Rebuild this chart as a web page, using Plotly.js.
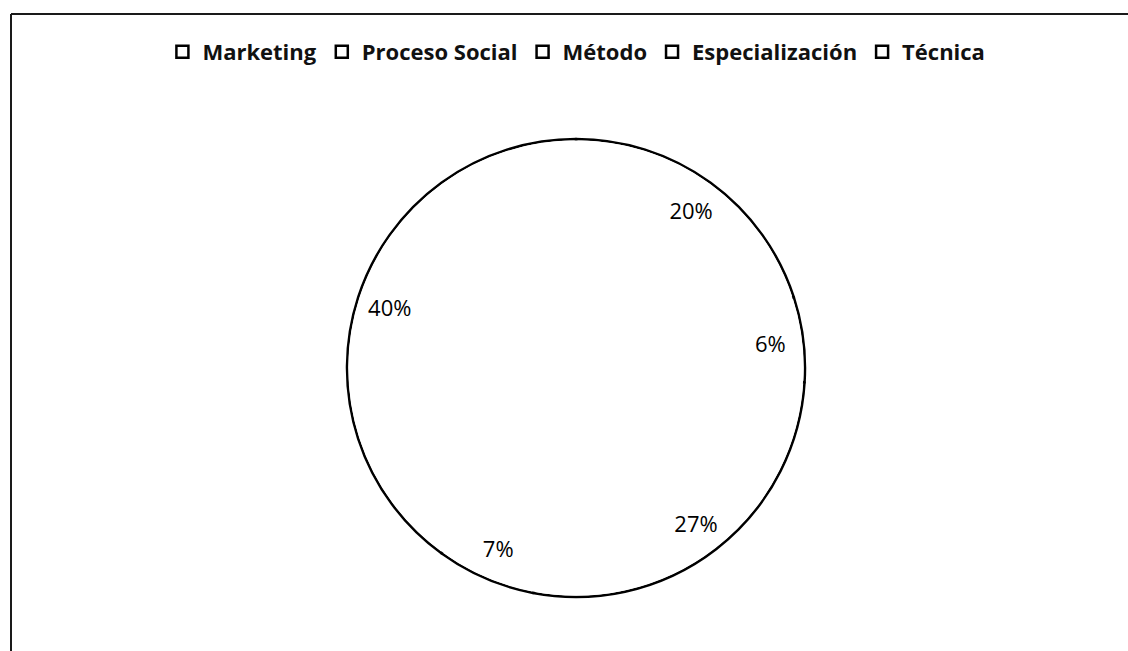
<!DOCTYPE html>
<html>
<head>
<meta charset="utf-8">
<script src="https://cdn.plot.ly/plotly-3.0.1.min.js"></script>
<style>
  html, body { margin: 0; padding: 0; background: #ffffff; }
  #chart { width: 1128px; height: 651px; }
</style>
</head>
<body>
<div id="chart"></div>
<script>
// Categories and their shares (%)
const categories = ['Marketing', 'Proceso Social', 'Método', 'Especialización', 'Técnica'];
const shares = [20, 6, 27, 7, 40];

const W = 1128, H = 651;
// pie placement in pixels
const cx = 576, cy = 368, R = 229;
const xDom = [(cx - R - 40) / W, (cx + R + 40) / W];
const yDom = [(H - cy - R) / H, (H - cy + R) / H];
const inset = 1.5; // white disc sits just inside the outline
const yDomInner = [(H - cy - R + inset) / H, (H - cy + R - inset) / H];

const white = categories.map(() => '#ffffff');
const clear = categories.map(() => 'rgba(0,0,0,0)');

// 1) the slices themselves: white, outlined; these feed the legend
const slices = {
  type: 'pie',
  labels: categories,
  values: shares,
  sort: false,
  direction: 'clockwise',
  rotation: 0,
  domain: { x: xDom, y: yDom },
  marker: { colors: white, line: { color: '#000000', width: 2.5 } },
  textinfo: 'none',
  hoverinfo: 'label+percent',
  showlegend: true
};

// 2) plain white disc covering the inner divider lines
const disc = {
  type: 'pie',
  labels: ['_disc'],
  values: [1],
  sort: false,
  domain: { x: xDom, y: yDomInner },
  marker: { colors: ['#ffffff'], line: { width: 0 } },
  textinfo: 'none',
  hoverinfo: 'skip',
  showlegend: false
};

// 3) percentage labels, placed in an outer ring of the same slices
const labels = {
  type: 'pie',
  labels: categories,
  values: shares,
  sort: false,
  direction: 'clockwise',
  rotation: 0,
  hole: 0.71,
  domain: { x: xDom, y: yDom },
  marker: { colors: clear, line: { width: 0 } },
  texttemplate: '%{value}%',
  textposition: 'inside',
  insidetextorientation: 'horizontal',
  textfont: { family: 'Open Sans, sans-serif', size: 22, color: '#000000' },
  hoverinfo: 'skip',
  showlegend: false
};

const frameColor = '#1a1a1a';

const layout = {
  width: W,
  height: H,
  margin: { l: 0, r: 0, t: 0, b: 0 },
  paper_bgcolor: '#ffffff',
  plot_bgcolor: '#ffffff',
  showlegend: true,
  legend: {
    orientation: 'h',
    x: 0.511,
    xanchor: 'center',
    y: 1 - 52 / H,
    yanchor: 'middle',
    traceorder: 'normal',
    font: { family: 'Open Sans, sans-serif', size: 22, color: '#111111', weight: 700 },
    bgcolor: 'rgba(0,0,0,0)'
  },
  shapes: [
    { type: 'line', xref: 'paper', yref: 'paper', x0: 11 / W, x1: 1, y0: 1 - 14 / H, y1: 1 - 14 / H,
      line: { color: frameColor, width: 2 } },
    { type: 'line', xref: 'paper', yref: 'paper', x0: 11 / W, x1: 11 / W, y0: 0, y1: 1 - 14 / H,
      line: { color: frameColor, width: 2 } }
  ]
};

Plotly.newPlot('chart', [slices, disc, labels], layout, { displayModeBar: false, staticPlot: true });
</script>
</body>
</html>
